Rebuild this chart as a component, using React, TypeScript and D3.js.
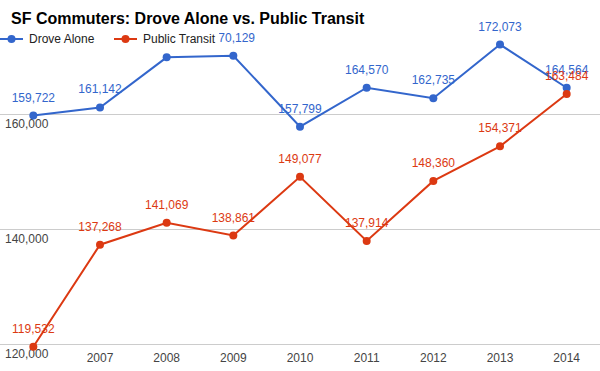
import { useEffect, useRef } from 'react'
import * as d3 from 'd3'

const years = ['2006', '2007', '2008', '2009', '2010', '2011', '2012', '2013', '2014']
const droveAlone = [159722, 161142, 169856, 170129, 157799, 164570, 162735, 172073, 164564]
const publicTransit = [119532, 137268, 141069, 138861, 149077, 137914, 148360, 154371, 163484]
const yTicks = [120000, 140000, 160000]
// 2006 tick label is hidden in the original (collides with the y label)
const xLabels = ['', '2007', '2008', '2009', '2010', '2011', '2012', '2013', '2014']

const seriesNames = ['Drove Alone', 'Public Transit']
const colors = ['#3366cc', '#dc3912']

const width = 600
const height = 371
const font = 'Arial, "Liberation Sans", sans-serif'

export default function App() {
  const svgRef = useRef<SVGSVGElement>(null)

  useEffect(() => {
    if (!svgRef.current) return
    const svg = d3.select(svgRef.current)
    svg.selectAll('*').remove()

    const x = d3.scalePoint<string>().domain(years).range([0, width]).padding(0.5)
    const y = d3.scaleLinear().domain([120000, 180000]).range([344, -1])
    const fmt = d3.format(',')

    // grid
    svg.append('g')
      .selectAll('line')
      .data(yTicks)
      .join('line')
      .attr('x1', 0)
      .attr('x2', width)
      .attr('y1', d => Math.round(y(d)) + 0.5)
      .attr('y2', d => Math.round(y(d)) + 0.5)
      .attr('stroke', '#cccccc')

    // y labels, sitting under the gridlines
    svg.append('g')
      .selectAll('text')
      .data(yTicks)
      .join('text')
      .attr('x', 5)
      .attr('y', d => y(d) + 14)
      .attr('font-family', font)
      .attr('font-size', 12)
      .attr('fill', '#444')
      .text(d => fmt(d))

    // x labels
    svg.append('g')
      .selectAll('text')
      .data(years)
      .join('text')
      .attr('x', d => x(d) || 0)
      .attr('y', 362)
      .attr('text-anchor', 'middle')
      .attr('font-family', font)
      .attr('font-size', 12)
      .attr('fill', '#444')
      .text((_, i) => xLabels[i])

    const series = [droveAlone, publicTransit]
    const line = d3.line<number>()
      .x((_, i) => x(years[i]) || 0)
      .y(d => y(d))

    series.forEach((values, s) => {
      const g = svg.append('g')
      g.append('path')
        .datum(values)
        .attr('fill', 'none')
        .attr('stroke', colors[s])
        .attr('stroke-width', 2)
        .attr('d', line)
      g.selectAll('circle')
        .data(values)
        .join('circle')
        .attr('cx', (_, i) => x(years[i]) || 0)
        .attr('cy', d => y(d))
        .attr('r', 4)
        .attr('fill', colors[s])
    })

    // point labels
    series.forEach((values, s) => {
      svg.append('g')
        .selectAll('text')
        .data(values)
        .join('text')
        .attr('x', (_, i) => x(years[i]) || 0)
        .attr('y', d => y(d) - 14)
        .attr('text-anchor', 'middle')
        .attr('font-family', font)
        .attr('font-size', 12)
        .attr('fill', colors[s])
        .text(d => fmt(d))
    })

    // title
    svg.append('text')
      .attr('x', 11)
      .attr('y', 24)
      .attr('font-family', font)
      .attr('font-size', 16)
      .attr('font-weight', 'bold')
      .attr('fill', '#000')
      .text('SF Commuters: Drove Alone vs. Public Transit')

    // legend (white box behind text covers point labels, as in the original)
    const legendX = [0, 114]
    seriesNames.forEach((name, s) => {
      const lg = svg.append('g').attr('transform', `translate(${legendX[s]},39)`)
      const label = lg.append('text')
        .attr('x', 29)
        .attr('y', 4)
        .attr('font-family', font)
        .attr('font-size', 12)
        .attr('fill', '#222')
        .text(name)
      const w = (label.node() as SVGTextElement).getComputedTextLength()
      lg.insert('rect', 'text')
        .attr('x', 29)
        .attr('y', -6)
        .attr('width', w + 4)
        .attr('height', 13)
        .attr('fill', '#fff')
      lg.append('line')
        .attr('x1', 0)
        .attr('x2', 23)
        .attr('stroke', colors[s])
        .attr('stroke-width', 2)
      lg.append('circle')
        .attr('cx', 11.5)
        .attr('r', 4)
        .attr('fill', colors[s])
    })
  }, [])

  return (
    <svg
      ref={svgRef}
      width={width}
      height={height}
      style={{ position: 'absolute', left: 0, top: 0, background: '#fff' }}
    />
  )
}
